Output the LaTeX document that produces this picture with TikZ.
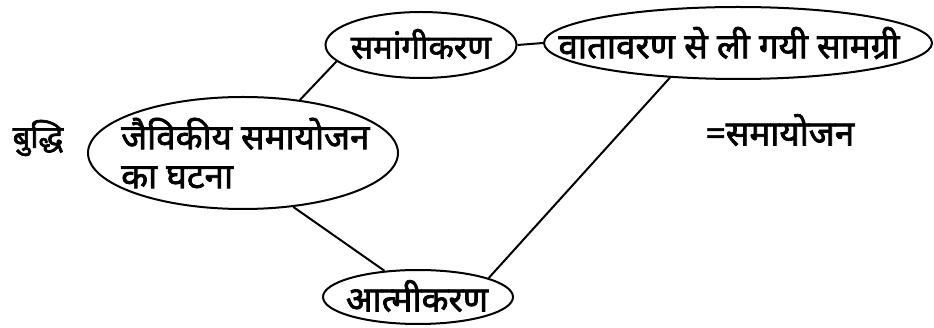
\documentclass[tikz,border=0pt]{standalone}
\usepackage{fontspec}
\newfontfamily\devfont[Script=Devanagari, FakeBold=2]{Noto Sans}
\usetikzlibrary{shapes.geometric}

\begin{document}
\begin{tikzpicture}[x=1pt, y=-1pt,
    oval/.style={ellipse, draw, line width=2pt, inner sep=0pt},
    word/.style={font=\devfont\fontsize{35}{39}\selectfont, inner sep=0pt}]
    \useasboundingbox (0, 0) rectangle (934, 328);

    \node[oval, minimum width=191pt, minimum height=66pt] (sam) at (421, 45) {};
    \node[oval, minimum width=388pt, minimum height=72pt] (vat) at (738, 43) {};
    \node[oval, minimum width=310pt, minimum height=112pt] (jai) at (243, 153) {};
    \node[oval, minimum width=190pt, minimum height=54pt] (atm) at (418, 297) {};

    \node[word, font=\devfont\fontsize{33}{39}\selectfont] (samtext) at (421, 44) {समांगीकरण};
    \node[word] (vattext) at (729, 43) {वातावरण से ली गयी सामग्री};
    \node[word, align=left, anchor=west] (jaitext) at (121, 153) {जैविकीय समायोजन\\का घटना};
    \node[word] (atmtext) at (417, 296) {आत्मीकरण};
    \node[word, font=\devfont\fontsize{31}{39}\selectfont] (buddhi) at (38, 138) {बुद्धि};
    \node[word] (samayojan) at (780, 130) {=समायोजन};

    \draw[-, line width=2pt] (sam.east) -- (vat.west);
    \draw[-, line width=2pt] (sam.191) -- (jai.43);
    \draw[-, line width=2pt] (jai.313) -- (atm.142);
    \draw[-, line width=2pt] (atm.15) -- (vat.207);
\end{tikzpicture}
\end{document}
